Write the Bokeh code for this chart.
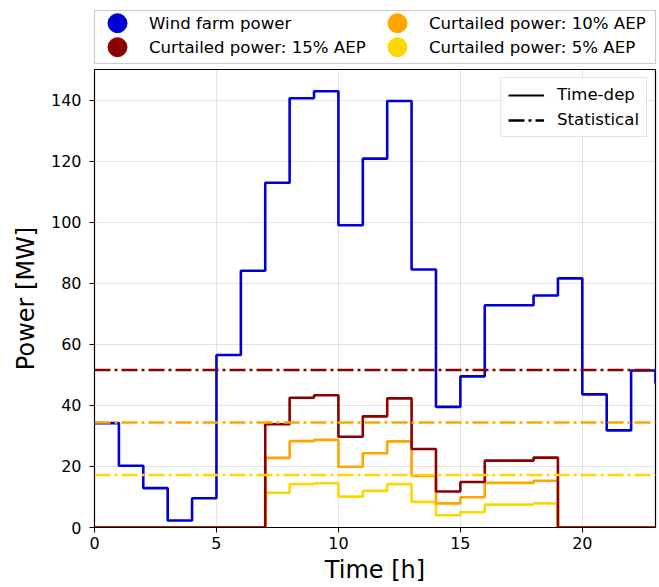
from bokeh.plotting import figure
from bokeh.layouts import column
from bokeh.models import Range1d, Legend, LegendItem, FixedTicker, ColumnDataSource, Span
from bokeh.core.properties import value
from bokeh.embed import file_html
from bokeh.resources import INLINE

hours = list(range(24))
wind_power = [34.2, 20.2, 12.9, 2.3, 9.6, 56.5, 84.1, 112.9, 140.6, 142.9, 99.0, 120.8,
              139.7, 84.5, 39.5, 49.5, 72.8, 72.8, 76.0, 81.6, 43.6, 31.8, 51.4, 47.2]
curtailed_15 = [0, 0, 0, 0, 0, 0, 0, 33.8, 42.5, 43.3, 29.7, 36.4,
                42.3, 25.7, 11.8, 14.9, 21.9, 21.9, 22.9, 0, 0, 0, 0, 0]
curtailed_10 = [0, 0, 0, 0, 0, 0, 0, 22.8, 28.3, 28.7, 19.9, 24.3,
                28.2, 16.9, 7.9, 9.9, 14.6, 14.6, 15.3, 0, 0, 0, 0, 0]
curtailed_5 = [0, 0, 0, 0, 0, 0, 0, 11.4, 14.2, 14.5, 10.1, 12.0,
               14.2, 8.4, 4.0, 5.0, 7.5, 7.5, 7.9, 0, 0, 0, 0, 0]
statistical_15 = 51.6
statistical_10 = 34.4
statistical_5 = 17.2
x_ticks = [0, 5, 10, 15, 20]
y_ticks = [0, 20, 40, 60, 80, 100, 120, 140]
legend_labels = ["Wind farm power", "Curtailed power: 15% AEP",
                 "Curtailed power: 10% AEP", "Curtailed power: 5% AEP"]
style_labels = ["Time-dep", "Statistical"]

BLUE = "#0000d4"
DARKRED = "#8b0000"
ORANGE = "#ffa500"
GOLD = "#ffd700"
legend_colors = [BLUE, DARKRED, ORANGE, GOLD]
FONT = "DejaVu Sans"
LEG_FS = "16.6px"
DASHDOT = "16 4 3 4"

# ---------------- top legend (own small figure) ----------------
LW, LH = 561, 53
leg = figure(width=659, height=68, output_backend="svg", toolbar_location=None,
             x_range=Range1d(0, LW), y_range=Range1d(0, LH),
             x_axis_type=None, y_axis_type=None,
             min_border_left=94, min_border_right=4, min_border_top=10, min_border_bottom=5)
leg.grid.visible = False
leg.outline_line_color = "#cccccc"
leg.outline_line_width = 1.2
leg.background_fill_color = "white"
leg.border_fill_color = "white"
col_x = [23, 23, 303, 303]
row_y = [LH - 12.7, LH - 36.7, LH - 12.7, LH - 36.7]
leg.scatter(x=col_x, y=row_y, marker="circle", size=19,
            fill_color=legend_colors, line_color=legend_colors)
leg.text(x=[c + 31.5 for c in col_x], y=row_y, text=legend_labels,
         text_font=value(FONT), text_font_size=LEG_FS, text_color="black",
         text_baseline="middle", text_align="left")

# ---------------- main plot ----------------
p = figure(width=659, height=519, output_backend="svg", toolbar_location=None,
           x_range=Range1d(0, 23), y_range=Range1d(0, 150),
           min_border_left=92, min_border_right=4, min_border_top=1, min_border_bottom=60)

p.background_fill_color = "white"
p.border_fill_color = "white"
p.outline_line_color = "black"
p.outline_line_width = 1.2
p.outline_line_alpha = 1

for ax in (p.xaxis[0], p.yaxis[0]):
    ax.major_label_text_font = FONT
    ax.major_label_text_font_size = "16px"
    ax.major_label_text_color = "black"
    ax.axis_label_text_font = FONT
    ax.axis_label_text_font_size = "24px"
    ax.axis_label_text_font_style = "normal"
    ax.axis_label_text_color = "black"
    ax.major_tick_out = 5
    ax.major_tick_in = 0
    ax.minor_tick_out = 0
    ax.minor_tick_in = 0
    ax.axis_line_color = "black"
    ax.major_tick_line_color = "black"

p.xaxis.axis_label = "Time [h]"
p.yaxis.axis_label = "Power [MW]"
p.xaxis.ticker = FixedTicker(ticks=x_ticks)
p.yaxis.ticker = FixedTicker(ticks=y_ticks)
p.xaxis.major_label_standoff = 4
p.yaxis.major_label_standoff = 8
p.xaxis.axis_label_standoff = 4
p.yaxis.axis_label_standoff = 8

p.grid.grid_line_color = "#b0b0b0"
p.grid.grid_line_alpha = 0.35
p.grid.grid_line_width = 1

src = ColumnDataSource(dict(h=hours, w=wind_power, c15=curtailed_15,
                            c10=curtailed_10, c5=curtailed_5))

p.step("h", "w", source=src, mode="after", line_color=BLUE, line_width=2.6)
p.step("h", "c5", source=src, mode="after", line_color=GOLD, line_width=2.6)
p.step("h", "c10", source=src, mode="after", line_color=ORANGE, line_width=2.6)
p.step("h", "c15", source=src, mode="after", line_color=DARKRED, line_width=2.6)

for lvl, col in ((statistical_15, DARKRED), (statistical_10, ORANGE), (statistical_5, GOLD)):
    p.add_layout(Span(location=lvl, dimension="width", line_color=col,
                      line_width=2.5, line_dash=DASHDOT))

nan = float("nan")
r_td = p.line(x=[nan, nan], y=[nan, nan], line_color="black", line_width=2)
r_st = p.line(x=[nan, nan], y=[nan, nan], line_color="black", line_width=2.5,
              line_dash=DASHDOT)
inner_legend = Legend(items=[
    LegendItem(label=style_labels[0], renderers=[r_td]),
    LegendItem(label=style_labels[1], renderers=[r_st]),
], location="top_right", margin=8, padding=7, spacing=6,
    glyph_width=36, glyph_height=18, label_height=18, label_standoff=13,
    label_text_font=FONT, label_text_font_size=LEG_FS, label_text_color="black",
    label_text_baseline="middle",
    border_line_color="#cccccc", border_line_width=1.2,
    background_fill_color="white", background_fill_alpha=0.9)
p.add_layout(inner_legend, "center")

layout = column(leg, p, spacing=0)
open("out.html", "w").write(file_html(layout, INLINE))
